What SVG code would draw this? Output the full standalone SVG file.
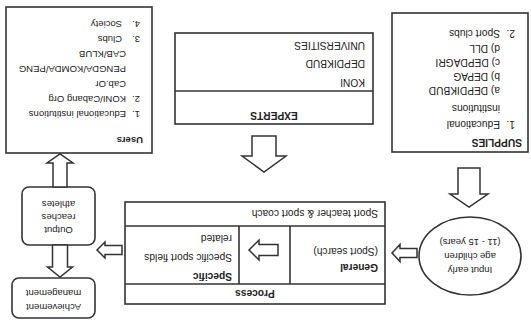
<svg xmlns="http://www.w3.org/2000/svg" width="531" height="320" viewBox="0 0 531 320">
<style>
.box{fill:#fff;stroke:#333;stroke-width:1.6}
.rbox{fill:#fff;stroke:#333;stroke-width:1.6}
.ln{stroke:#333;stroke-width:1.6;fill:none}
.arr{fill:#fff;stroke:#333;stroke-width:1.5;stroke-linejoin:miter}
text{font-family:"Liberation Sans",Arial,sans-serif;font-size:10.2px;fill:#222}
.s{font-size:9.5px}
.b{font-weight:bold}
.c{text-anchor:middle}
</style>
<rect width="531" height="320" fill="#fff"/>
<g transform="rotate(180 265.5 160)">
  <g id="process">
    <rect class="box" x="146" y="16" width="260" height="102"/>
    <line class="ln" x1="146" y1="36" x2="406" y2="36"/>
    <line class="ln" x1="146" y1="94" x2="406" y2="94"/>
    <line class="ln" x1="241" y1="36" x2="241" y2="94"/>
    <line class="ln" x1="292" y1="36" x2="292" y2="94"/>
    <text class="b c" x="276" y="30">Process</text>
    <text class="b" x="153" y="56">General</text>
    <text x="153" y="72">(Sport search)</text>
    <text class="b" x="299" y="47">Specific</text>
    <text x="299" y="66">Specific sport fields</text>
    <text x="299" y="85">related</text>
    <text x="153" y="110">Sport teacher &amp; sport coach</text>
  </g>
  <g id="input">
    <ellipse class="box" cx="61" cy="64" rx="51" ry="39"/>
    <text class="c s" x="61" y="53">Input early</text>
    <text class="c s" x="61" y="67">age children</text>
    <text class="c s" x="61" y="81">(11 - 15 years)</text>
  </g>
  <g id="supplies">
    <rect class="box" x="3" y="168" width="136" height="139"/>
    <text class="b" x="9" y="181">SUPPLIES</text>
    <text x="16" y="199">1.</text>
    <text x="31" y="199">Educational</text>
    <text x="31" y="215">institutions</text>
    <text x="31" y="233">a)  DEPDIKBUD</text>
    <text x="31" y="247">b)  DEPAG</text>
    <text x="31" y="261">c)  DEPDAGRI</text>
    <text x="31" y="275">d)  DLL</text>
    <text x="16" y="290">2.</text>
    <text x="31" y="290">Sport clubs</text>
  </g>
  <g id="experts">
    <rect class="box" x="158" y="196" width="198" height="91"/>
    <line class="ln" x1="158" y1="229" x2="356" y2="229"/>
    <text class="b c" x="257" y="208">EXPERTS</text>
    <text x="166" y="241">KONI</text>
    <text x="166" y="260">DEPDIKBUD</text>
    <text x="166" y="278">UNIVERSITIES</text>
  </g>
  <g id="users">
    <rect class="box" x="379" y="167" width="146" height="146"/>
    <text class="b s" x="388" y="183">Users</text>
    <text class="s" x="391" y="209">1.</text>
    <text class="s" x="405" y="209">Educational institutions</text>
    <text class="s" x="391" y="224">2.</text>
    <text class="s" x="405" y="224">KONI/Cabang Org</text>
    <text class="s" x="405" y="239">Cab.Or</text>
    <text class="s" x="405" y="254">PENGDA/KOMDA/PENG</text>
    <text class="s" x="405" y="269">CAB/KLUB</text>
    <text class="s" x="391" y="284">3.</text>
    <text class="s" x="409" y="284">Clubs</text>
    <text class="s" x="391" y="299">4.</text>
    <text class="s" x="409" y="299">Society</text>
  </g>
  <g id="output">
    <rect class="rbox" x="436" y="75" width="73" height="58" rx="7"/>
    <text class="c s" x="472.5" y="93">Output</text>
    <text class="c s" x="472.5" y="106">reaches</text>
    <text class="c s" x="472.5" y="119">athletes</text>
  </g>
  <g id="achievement">
    <rect class="rbox" x="436" y="2" width="83" height="40" rx="7"/>
    <text class="c s" x="477.5" y="16">Achievement</text>
    <text class="c s" x="477.5" y="30">management</text>
  </g>
  <g id="connectors">
    <path class="arr" d="M51,152 L73,152 L73,126 L81,126 L62,113 L43,126 L51,126 Z"/>
    <path class="arr" d="M114,62.5 L131,62.5 L131,58.5 L139,67 L131,75.5 L131,71.5 L114,71.5 Z"/>
    <path class="arr" d="M253,64.5 L272,64.5 L272,60 L282,70 L272,80 L272,75.5 L253,75.5 Z"/>
    <path class="arr" d="M409,65.5 L426,65.5 L426,62 L434,70 L426,78 L426,74.5 L409,74.5 Z"/>
    <path class="arr" d="M255,184 L279,184 L279,164 L289,164 L267,148 L245,164 L255,164 Z"/>
    <path class="arr" d="M464,133 L478,133 L478,157 L484,157 L471,166 L458,157 L464,157 Z"/>
    <path class="arr" d="M463.5,75 L478.5,75 L478.5,53 L483.5,53 L471,43 L458.5,53 L463.5,53 Z"/>
  </g>
</g>
</svg>
